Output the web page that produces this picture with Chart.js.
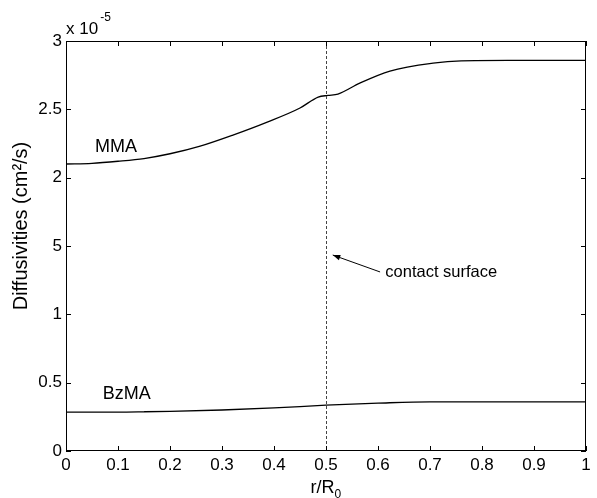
<!DOCTYPE html>
<html>
<head>
<meta charset="utf-8">
<script src="https://cdn.jsdelivr.net/npm/chart.js@4/dist/chart.umd.min.js"></script>
<style>
  html, body { margin: 0; padding: 0; background: #fff; }
  #wrap { width: 597px; height: 498px; }
</style>
</head>
<body>
<div id="wrap"><canvas id="myChart" width="597" height="498"></canvas></div>
<script>
// radial position r/R0 and diffusivities in units of 1e-5 cm^2/s
const mmaR   = [0, 0.05, 0.1, 0.15, 0.2, 0.258, 0.321, 0.387, 0.45, 0.485, 0.504, 0.523, 0.565, 0.623, 0.706, 0.76, 0.85, 1.0];
const mmaD   = [2.10, 2.105, 2.12, 2.14, 2.175, 2.231, 2.312, 2.407, 2.51, 2.59, 2.602, 2.612, 2.692, 2.78, 2.838, 2.855, 2.858, 2.858];
const bzmaR  = [0, 0.1, 0.15, 0.2, 0.3, 0.4, 0.5, 0.6, 0.7, 0.8, 0.9, 1.0];
const bzmaD  = [0.285, 0.285, 0.287, 0.29, 0.30, 0.315, 0.335, 0.35, 0.36, 0.36, 0.36, 0.36];

const xTicks      = [0, 0.1, 0.2, 0.3, 0.4, 0.5, 0.6, 0.7, 0.8, 0.9, 1];
const yTicks      = [0, 0.5, 1, 1.5, 2, 2.5, 3];
const yTickLabels = ['0', '0.5', '1', '5', '2', '2.5', '3'];
const contactR    = 0.5;

const FONT = "'Liberation Sans', Arial, Helvetica, sans-serif";

function pts(xs, ys) {
    return xs.map((x, i) => ({ x: x, y: ys[i] }));
}

// frame, inward ticks, contact line, labels and arrow
const decorations = {
    id: 'decorations',
    afterDraw(chart) {
        const ctx = chart.ctx;
        const a = chart.chartArea;
        const xs = chart.scales.x, ys = chart.scales.y;
        ctx.save();

        // dashed contact surface line
        ctx.strokeStyle = '#444';
        ctx.lineWidth = 1;
        ctx.setLineDash([3, 2]);
        const cx = Math.round(xs.getPixelForValue(contactR)) + 0.5;
        ctx.beginPath();
        ctx.moveTo(cx, a.top);
        ctx.lineTo(cx, a.bottom);
        ctx.stroke();
        ctx.setLineDash([]);

        // box
        ctx.strokeStyle = '#000';
        ctx.strokeRect(a.left + 0.5, a.top + 0.5, a.right - a.left - 1, a.bottom - a.top - 1);

        // inward ticks on all four sides
        const tl = 5;
        ctx.beginPath();
        xTicks.forEach(v => {
            const px = Math.round(xs.getPixelForValue(v)) + 0.5;
            ctx.moveTo(px, a.bottom); ctx.lineTo(px, a.bottom - tl);
            ctx.moveTo(px, a.top);    ctx.lineTo(px, a.top + tl);
        });
        yTicks.forEach(v => {
            const py = Math.round(ys.getPixelForValue(v)) + 0.5;
            ctx.moveTo(a.left, py);  ctx.lineTo(a.left + tl, py);
            ctx.moveTo(a.right, py); ctx.lineTo(a.right - tl, py);
        });
        ctx.stroke();

        // series labels
        ctx.fillStyle = '#000';
        ctx.font = '18px ' + FONT;
        ctx.textAlign = 'center';
        ctx.textBaseline = 'middle';
        ctx.fillText('MMA', xs.getPixelForValue(0.096), ys.getPixelForValue(2.224));
        ctx.fillText('BzMA', xs.getPixelForValue(0.117), ys.getPixelForValue(0.417));

        // contact surface arrow
        const hx = xs.getPixelForValue(0.513), hy = ys.getPixelForValue(1.434);
        const tx = xs.getPixelForValue(0.604), ty = ys.getPixelForValue(1.31);
        ctx.beginPath();
        ctx.moveTo(tx, ty);
        ctx.lineTo(hx, hy);
        ctx.stroke();
        const ang = Math.atan2(hy - ty, hx - tx);
        ctx.beginPath();
        ctx.moveTo(hx, hy);
        ctx.lineTo(hx - 8 * Math.cos(ang - 0.35), hy - 8 * Math.sin(ang - 0.35));
        ctx.lineTo(hx - 8 * Math.cos(ang + 0.35), hy - 8 * Math.sin(ang + 0.35));
        ctx.closePath();
        ctx.fill();
        ctx.font = '16.5px ' + FONT;
        ctx.textAlign = 'left';
        ctx.fillText('contact surface', xs.getPixelForValue(0.614), ys.getPixelForValue(1.31));

        // exponent above the y axis
        ctx.font = '17px ' + FONT;
        ctx.fillText('x 10', a.left, 29);
        const ew = ctx.measureText('x 10').width;
        ctx.font = '12px ' + FONT;
        ctx.fillText('-5', a.left + ew + 2, 18);

        // y axis title, rotated
        ctx.save();
        ctx.translate(21, 226);
        ctx.rotate(-Math.PI / 2);
        ctx.textAlign = 'center';
        ctx.font = '20px ' + FONT;
        ctx.fillText('Diffusivities (cm²/s)', 0, 0);
        ctx.restore();

        // x axis title with subscript
        ctx.font = '18px ' + FONT;
        ctx.textBaseline = 'alphabetic';
        const main = 'r/R';
        const w = ctx.measureText(main).width;
        const x0 = (a.left + a.right) / 2 - (w + 7) / 2;
        ctx.fillText(main, x0, 493);
        ctx.font = '12px ' + FONT;
        ctx.fillText('0', x0 + w, 498);
        ctx.restore();
    }
};

new Chart(document.getElementById('myChart'), {
    type: 'line',
    data: {
        datasets: [
            { label: 'MMA',  data: pts(mmaR, mmaD),   borderColor: '#000', borderWidth: 1.3, pointRadius: 0, cubicInterpolationMode: 'monotone' },
            { label: 'BzMA', data: pts(bzmaR, bzmaD), borderColor: '#000', borderWidth: 1.3, pointRadius: 0, cubicInterpolationMode: 'monotone' }
        ]
    },
    options: {
        responsive: false,
        animation: false,
        events: [],
        layout: { padding: { top: 41, right: 11, left: 0, bottom: 0 } },
        plugins: { legend: { display: false }, tooltip: { enabled: false } },
        scales: {
            x: {
                type: 'linear', min: 0, max: 1,
                afterBuildTicks: s => { s.ticks = xTicks.map(v => ({ value: v })); },
                afterFit: s => { s.height = 47; },
                grid: { display: false, drawTicks: false },
                border: { display: false },
                ticks: { color: '#000', padding: 4, font: { family: FONT, size: 17 }, maxRotation: 0,
                         callback: v => String(v) }
            },
            y: {
                type: 'linear', min: 0, max: 3,
                afterBuildTicks: s => { s.ticks = yTicks.map(v => ({ value: v })); },
                afterFit: s => { s.width = 66; },
                grid: { display: false, drawTicks: false },
                border: { display: false },
                ticks: { color: '#000', padding: 4, font: { family: FONT, size: 17 },
                         callback: v => yTickLabels[yTicks.indexOf(v)] }
            }
        }
    },
    plugins: [decorations]
});
</script>
</body>
</html>
